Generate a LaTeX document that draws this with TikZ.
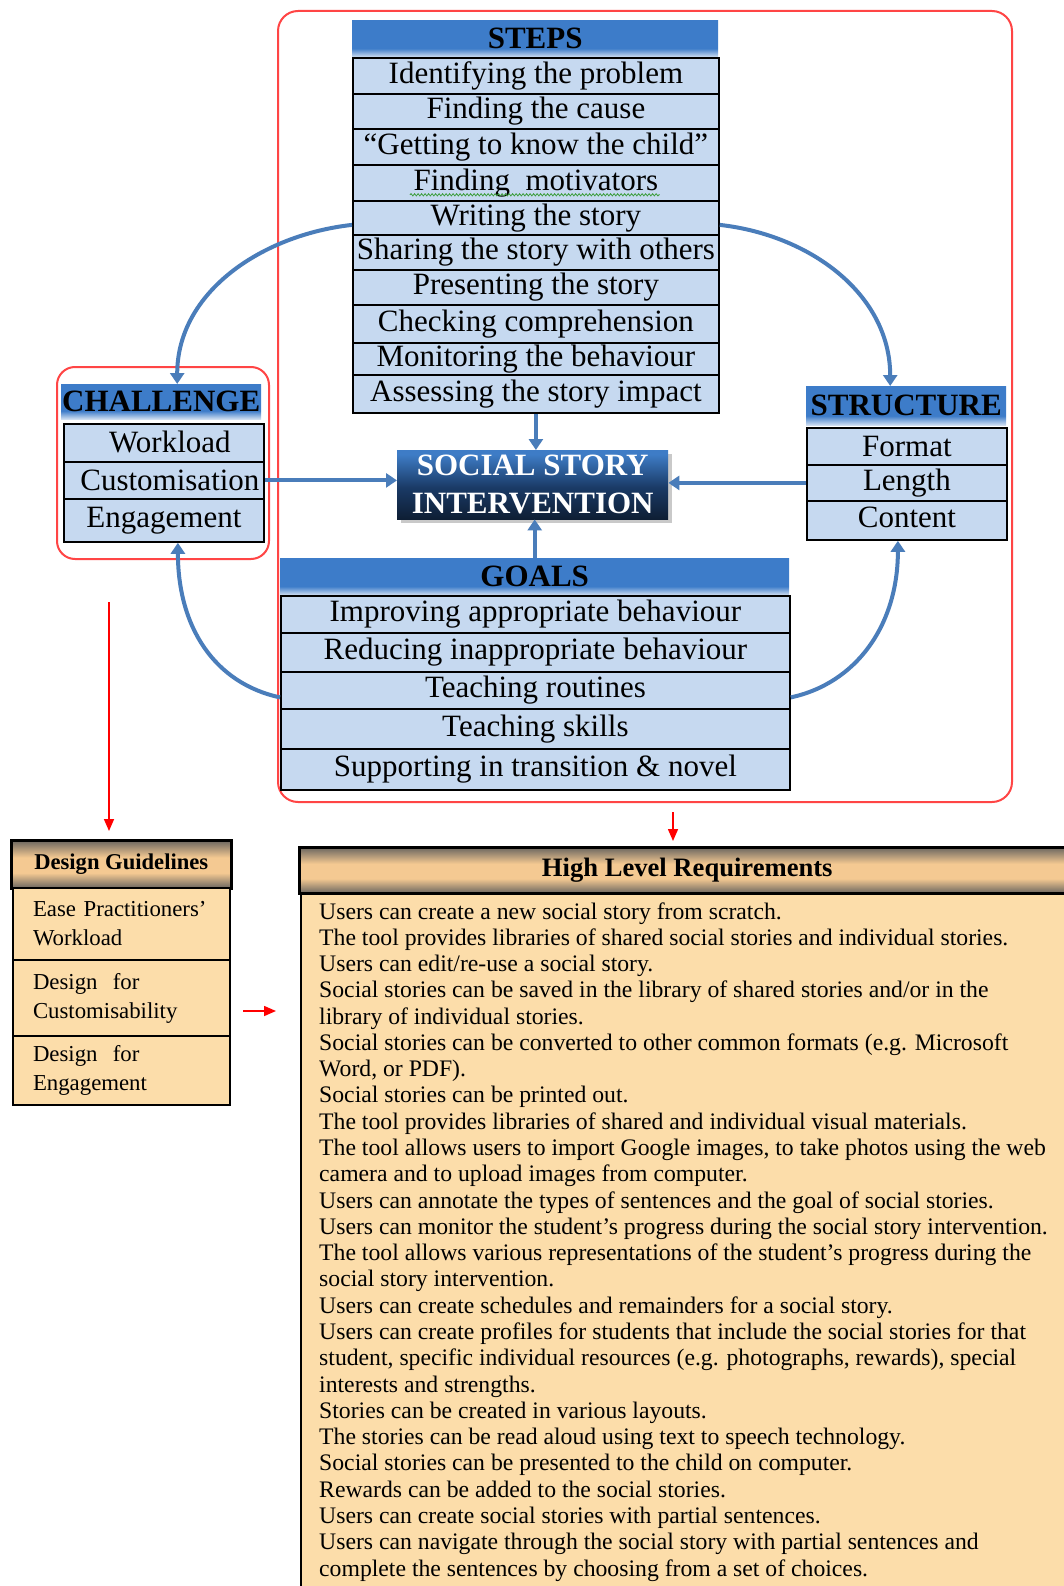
\documentclass[tikz,border=0pt]{standalone}
\usepackage{fontspec}
\setmainfont{Liberation Serif}
\usetikzlibrary{arrows.meta,calc,decorations.pathmorphing,shadows}

\definecolor{rowblue}{HTML}{C6D9F0}
\definecolor{headblue}{HTML}{3D7CC9}
\definecolor{headlight}{HTML}{D2E0F2}
\definecolor{ssitop}{HTML}{3E7CC6}
\definecolor{ssimid}{HTML}{1A3A66}
\definecolor{ssinavy}{HTML}{0E1E34}
\definecolor{framered}{HTML}{FF4545}
\definecolor{flowblue}{HTML}{4A7DBA}
\definecolor{tanfill}{HTML}{FCDDAA}
\definecolor{pdark}{HTML}{6A655F}
\definecolor{ppeach}{HTML}{F4C992}
\definecolor{spellgreen}{HTML}{3E9E3E}

\pgfdeclareverticalshading{bluehead}{100bp}{color(0bp)=(headlight); color(25bp)=(headlight); color(37bp)=(headblue); color(100bp)=(headblue)}
\pgfdeclareverticalshading{ssishade}{100bp}{color(0bp)=(ssinavy); color(25bp)=(ssinavy); color(48bp)=(ssimid); color(72bp)=(ssitop); color(100bp)=(ssitop)}
\pgfdeclareverticalshading{peachhead}{100bp}{color(0bp)=(pdark); color(25bp)=(pdark); color(41bp)=(ppeach); color(57bp)=(ppeach); color(75bp)=(pdark); color(100bp)=(pdark)}

\tikzset{
  rowbox/.style={draw=black, line width=1.8pt, fill=rowblue, inner sep=0pt, anchor=north west,
    font=\fontsize{31}{34}\selectfont},
  headbox/.style={shade, shading=bluehead, inner sep=0pt, anchor=north west,
    font=\bfseries\fontsize{31}{34}\selectfont},
  redframe/.style={draw=framered, line width=2pt, rounded corners=20pt, inner sep=0pt, anchor=north west},
  flow/.style={draw=flowblue, line width=4pt, -{Triangle[width=14pt,length=11pt]}},
  redarrow/.style={draw=red, line width=1.6pt, -{Triangle[width=10pt,length=12pt]}},
  tanhead/.style={shade, shading=peachhead, draw=black, line width=2.5pt, inner sep=0pt, anchor=north west},
  tanrow/.style={fill=tanfill, draw=black, line width=2pt, anchor=north west, inner xsep=20pt,
    align=left, text width=177pt, font=\fontsize{22.8}{29}\selectfont},
  reqline/.style={inner sep=0pt, anchor=base west, font=\fontsize{23.7}{26}\selectfont},
}

\begin{document}
\begin{tikzpicture}[x=1pt,y=-1pt]
\clip (0,0) rectangle (1064,1586);
\fill[white] (0,0) rectangle (1064,1586);

% frames
\node[redframe, minimum width=734, minimum height=791] (frame) at (277,10) {};
\node[redframe, rounded corners=18pt, minimum width=212, minimum height=192] (chframe) at (56,366) {};

% STEPS table
\node[headbox, minimum width=366, minimum height=37] (steps) at (352,20) {STEPS};
\node[rowbox, minimum width=366, minimum height=36] (s1) at (352,57) {Identifying the problem};
\node[rowbox, minimum width=366, minimum height=35] (s2) at (352,93) {Finding the cause};
\node[rowbox, minimum width=366, minimum height=36] (s3) at (352,128) {“Getting to know the child”};
\node[rowbox, minimum width=366, minimum height=36] (s4) at (352,164) {Finding\ \ motivators};
\node[rowbox, minimum width=366, minimum height=34] (s5) at (352,200) {Writing the story};
\node[rowbox, minimum width=366, minimum height=35] (s6) at (352,234) {Sharing the story with others};
\node[rowbox, minimum width=366, minimum height=35] (s7) at (352,269) {Presenting the story};
\node[rowbox, minimum width=366, minimum height=38] (s8) at (352,304) {Checking comprehension};
\node[rowbox, minimum width=366, minimum height=32] (s9) at (352,342) {Monitoring the behaviour};
\node[rowbox, minimum width=366, minimum height=38] (s10) at (352,374) {Assessing the story impact};
\draw[spellgreen, line width=0.8pt, decorate, decoration={snake, amplitude=1.1pt, segment length=3.5pt}]
  ($(s4.south west)+(58,-7)$) -- ($(s4.south east)+(-60,-7)$);

% CHALLENGE table
\node[headbox, minimum width=200, minimum height=35] (chh) at (61,384) {CHALLENGE};
\node[rowbox, minimum width=200, minimum height=38] (c1) at (63,423) {\hspace*{12pt}\raisebox{3pt}{Workload}};
\node[rowbox, minimum width=200, minimum height=37] (c2) at (63,461) {\hspace*{12pt}Customisation};
\node[rowbox, minimum width=200, minimum height=43] (c3) at (63,498) {\raisebox{4pt}{Engagement}};

% STRUCTURE table
\node[headbox, minimum width=200, minimum height=39] (sth) at (806,386) {STRUCTURE};
\node[rowbox, minimum width=200, minimum height=37] (t1) at (806,427) {Format};
\node[rowbox, minimum width=200, minimum height=36] (t2) at (806,464) {Length};
\node[rowbox, minimum width=200, minimum height=39] (t3) at (806,500) {\raisebox{6pt}{Content}};

% GOALS table
\node[headbox, minimum width=509, minimum height=37] (goalsh) at (280,558) {GOALS};
\node[rowbox, minimum width=509, minimum height=37] (g1) at (280,595) {Improving appropriate behaviour};
\node[rowbox, minimum width=509, minimum height=39] (g2) at (280,632) {Reducing inappropriate behaviour};
\node[rowbox, minimum width=509, minimum height=37] (g3) at (280,671) {Teaching routines};
\node[rowbox, minimum width=509, minimum height=40] (g4) at (280,708) {\raisebox{4pt}{Teaching skills}};
\node[rowbox, minimum width=509, minimum height=41] (g5) at (280,748) {\raisebox{3pt}{Supporting in transition \& novel}};

% central node
\node[shade, shading=ssishade, inner sep=0pt, anchor=north west, minimum width=271, minimum height=69,
  align=center, text=white, font=\bfseries\fontsize{31}{38}\selectfont,
  drop shadow={shadow xshift=4pt, shadow yshift=-4pt, fill=gray!70, opacity=0.6}]
  (ssi) at (397,450) {SOCIAL STORY\\INTERVENTION};

% straight connectors into the central node
\draw[flow] (s10.south) -- (s10.south |- ssi.north);
\draw[flow] (goalsh.north) -- (goalsh.north |- ssi.south);
\draw[flow] (c2.east) -- (c2.east -| ssi.west);
\draw[flow] (t2.west) -- (t2.west -| ssi.east);

% curved connectors
\draw[flow] ($(s5.west)+(0,7)$) .. controls +(-90,10) and +(0,-92) .. ($(chh.north)+(16,0)$);
\draw[flow] ($(s5.east)+(0,7)$) .. controls +(90,10) and +(0,-92) .. ($(sth.north)+(-16,0)$);
\draw[flow] ($(g3.west)+(0,7)$) .. controls +(-65,-14) and +(0,85) .. ($(c3.south)+(14,0)$);
\draw[flow] ($(g3.east)+(0,7)$) .. controls +(65,-14) and +(0,85) .. ($(t3.south)+(-9,0)$);

% Design Guidelines
\node[tanhead, minimum width=220, minimum height=48, font=\bfseries\fontsize{22.6}{26}\selectfont] (dg) at (10,839) {Design Guidelines};
\node[tanrow, minimum height=72] (d1) at (12,887) {Ease~Practitioners’\\Workload};
\node[tanrow, minimum height=76] (d2) at (12,959) {Design\ \ for\\Customisability};
\node[tanrow, minimum height=69] (d3) at (12,1035) {Design\ \ for\\Engagement};

% High Level Requirements
\node[fill=tanfill, draw=black, line width=2pt, anchor=north west, minimum width=790, minimum height=730] (hlrbody) at (300,892) {};
\node[tanhead, minimum width=776, minimum height=46, font=\bfseries\fontsize{26.6}{30}\selectfont] (hlr) at (298,846) {High Level Requirements};

\foreach \t [count=\i] in {
  {Users can create a new social story from scratch.},
  {The tool provides libraries of shared social stories and individual stories.},
  {Users can edit/re-use a social story.},
  {Social stories can be saved in the library of shared stories and/or in the},
  {library of individual stories.},
  {Social stories can be converted to other common formats (e.g. Microsoft},
  {Word, or PDF).},
  {Social stories can be printed out.},
  {The tool provides libraries of shared and individual visual materials.},
  {The tool allows users to import Google images, to take photos using the web},
  {camera and to upload images from computer.},
  {Users can annotate the types of sentences and the goal of social stories.},
  {Users can monitor the student’s progress during the social story intervention.},
  {The tool allows various representations of the student’s progress during the},
  {social story intervention.},
  {Users can create schedules and remainders for a social story.},
  {Users can create profiles for students that include the social stories for that},
  {student, specific individual resources (e.g. photographs, rewards), special},
  {interests and strengths.},
  {Stories can be created in various layouts.},
  {The stories can be read aloud using text to speech technology.},
  {Social stories can be presented to the child on computer.},
  {Rewards can be added to the social stories.},
  {Users can create social stories with partial sentences.},
  {Users can navigate through the social story with partial sentences and},
  {complete the sentences by choosing from a set of choices.}}
  \node[reqline] (r\i) at (319,{919+26.28*(\i-1)}) {\t};

% red arrows
\coordinate (ra1) at (109,602);
\draw[redarrow, shorten >=8pt] (ra1) -- (ra1 |- dg.north);
\coordinate (ra2) at (673,812);
\draw[redarrow, shorten >=5pt] (ra2) -- (ra2 |- hlr.north);
\coordinate (ra3) at (243,1011);
\draw[redarrow, shorten >=24pt] (ra3) -- (ra3 -| hlrbody.west);
\end{tikzpicture}
\end{document}
